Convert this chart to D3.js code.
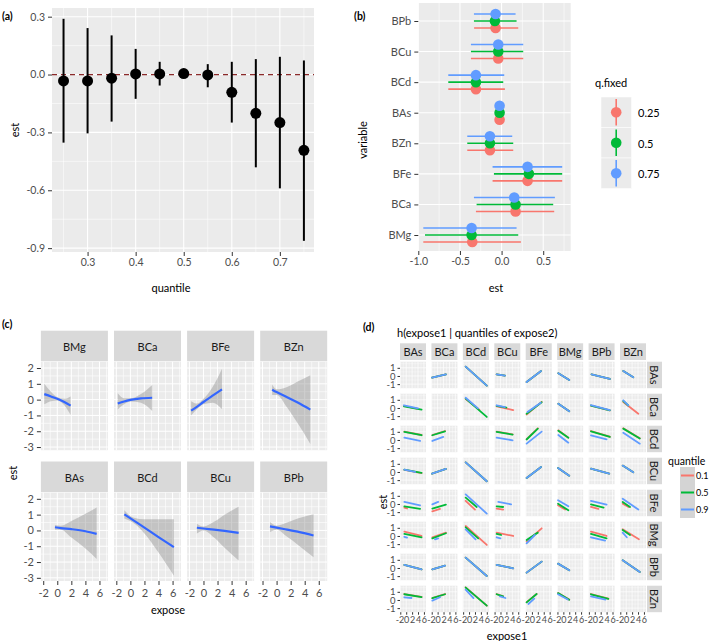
<!DOCTYPE html>
<html><head><meta charset="utf-8">
<script src="https://cdn.jsdelivr.net/npm/d3@7"></script>
<style>body{margin:0;background:#fff}svg{display:block}</style>
</head><body><svg id="chart" width="709" height="641"></svg>
<script>
// ================= DATA =================
// (a) overall risk summary
const quantilesA = [0.25,0.30,0.35,0.40,0.45,0.50,0.55,0.60,0.65,0.70,0.75];
const estA  = [-0.033,-0.033,-0.019,0.003,0.003,0.005,-0.002,-0.092,-0.201,-0.249,-0.393];
const lowA  = [-0.353,-0.305,-0.244,-0.126,-0.057,-0.014,-0.066,-0.249,-0.481,-0.590,-0.862];
const upA   = [0.289,0.241,0.203,0.133,0.066,0.020,0.054,0.066,0.080,0.092,0.073];
const xTicksA = [0.3,0.4,0.5,0.6,0.7];
const yTicksA = [0.3,0.0,-0.3,-0.6,-0.9];

// (b) single-variable effects, order of variablesB
const variablesB = ["BMg","BCa","BFe","BZn","BAs","BCd","BCu","BPb"];
const qFixed = ["0.25","0.5","0.75"];
const estB25 = [-0.352,0.168,0.312,-0.140,-0.024,-0.308,-0.040,-0.072];
const lowB25 = [-0.940,-0.308,-0.108,-0.412,-0.045,-0.640,-0.368,-0.330];
const upB25  = [0.232,0.632,0.728,0.140,0.000,0.040,0.260,0.200];
const estB50 = [-0.360,0.168,0.328,-0.140,-0.024,-0.308,-0.040,-0.080];
const lowB50 = [-0.920,-0.300,-0.092,-0.412,-0.045,-0.640,-0.368,-0.332];
const upB50  = [0.200,0.620,0.728,0.140,0.000,0.020,0.260,0.180];
const estB75 = [-0.360,0.152,0.312,-0.140,-0.024,-0.308,-0.040,-0.072];
const lowB75 = [-0.940,-0.332,-0.108,-0.412,-0.045,-0.640,-0.368,-0.332];
const upB75  = [0.180,0.640,0.728,0.128,0.000,0.032,0.260,0.168];
const xTicksB = [-1.0,-0.5,0.0,0.5];

// (c) univariate exposure-response
const facetsC = ["BMg","BCa","BFe","BZn","BAs","BCd","BCu","BPb"];
const exposeC = [
  [-1.85,-0.9,0,1.0,1.9],[-1.8,-0.9,0,1.5,3.1],[-1.76,-0.9,0,1.3,2.63],[-0.63,0,1.5,3.0,4.8],
  [-0.33,0.5,2.0,4.0,5.6],[-0.86,0.5,2.0,4.0,6.19],[-0.94,0,1.5,3.0,5.0],[-0.94,0,1.5,3.0,5.26]];
const estC = [
  [0.35,0.2,0.05,-0.15,-0.38],[-0.25,-0.12,-0.02,0.08,0.12],[-0.7,-0.44,-0.15,0.25,0.65],[0.63,0.48,0.15,-0.18,-0.63],
  [0.2,0.15,0.08,-0.05,-0.22],[1.02,0.62,0.18,-0.42,-1.06],[0.17,0.12,0.05,-0.03,-0.15],[0.26,0.18,0.05,-0.08,-0.32]];
const lowC = [
  [-0.3,-0.1,-0.05,-0.35,-0.97],[-0.62,-0.3,-0.12,-0.2,-0.72],[-1.0,-0.6,-0.3,-0.2,-0.6],[0.3,0.3,-0.5,-1.5,-2.8],
  [0.05,0.05,-0.45,-1.15,-1.8],[0.75,0.45,-0.2,-1.4,-2.87],[-0.2,0.0,-0.45,-1.1,-1.9],[-0.1,0.05,-0.4,-0.9,-1.7]];
const highC = [
  [1.0,0.5,0.15,0.05,0.2],[0.4,0.08,0.08,0.35,0.93],[-0.1,-0.25,0.05,0.8,1.95],[0.95,0.65,0.8,1.15,1.55],
  [0.35,0.3,0.6,1.05,1.45],[1.28,0.8,0.7,0.7,0.7],[0.43,0.25,0.55,1.0,1.5],[0.53,0.3,0.5,0.75,1.02]];
const xTicksC = [-2,0,2,4,6];
const yTicksC = [2,1,0,-1,-2,-3];

// (d) bivariate: [expose2 row, expose1 col, quantile, x0, x1, y0, y1]
const varsD = ["BAs","BCa","BCd","BCu","BFe","BMg","BPb","BZn"];
const quantD = ["0.1","0.5","0.9"];
const linesD = [
 ["BAs","BCa","all",-1.9,2.8,-0.2,0.2],["BAs","BCd","all",-1.15,6.0,1.14,-1.18],["BAs","BCu","all",-1.3,1.5,0.2,0.04],
 ["BAs","BFe","all",-1.8,3.1,-0.75,0.6],["BAs","BMg","all",-1.7,2.0,0.33,-0.49],["BAs","BPb","all",-1.1,5.1,0.2,-0.37],
 ["BAs","BZn","all",-1.0,2.4,0.61,-0.16],
 ["BCa","BAs","0.1",-0.74,4.0,0.25,-0.12],["BCa","BAs","0.5",-0.74,5.2,0.2,-0.2],["BCa","BAs","0.9",-0.74,4.0,0.33,-0.05],
 ["BCa","BCd","0.1",-1.15,3.5,1.1,-0.2],["BCa","BCd","0.5",-1.15,6.0,1.15,-1.1],["BCa","BCd","0.9",-1.15,3.0,1.25,-0.05],
 ["BCa","BCu","0.1",-1.3,4.3,0.2,-0.25],["BCa","BCu","0.5",-1.3,2.0,0.25,0.05],["BCa","BCu","0.9",-1.3,1.5,0.33,0.1],
 ["BCa","BFe","0.1",-1.8,3.3,-0.8,0.75],["BCa","BFe","0.5",-1.8,3.3,-0.7,0.7],["BCa","BFe","0.9",-1.5,3.0,-0.5,0.65],
 ["BCa","BMg","all",-1.7,2.0,0.53,-0.4],
 ["BCa","BPb","0.1",-1.3,5.1,0.28,-0.3],["BCa","BPb","0.5",-1.3,5.1,0.3,-0.29],["BCa","BPb","0.9",-1.3,5.1,0.35,-0.25],
 ["BCa","BZn","0.1",-1.0,4.1,0.73,-0.7],["BCa","BZn","0.5",-1.0,0.7,0.85,0.3],["BCa","BZn","0.9",-1.0,0.7,0.94,0.33],
 ["BCd","BAs","0.1",-0.63,5.2,1.02,0.61],["BCd","BAs","0.5",-0.63,5.2,0.98,0.58],["BCd","BAs","0.9",-0.63,4.7,0.29,-0.12],
 ["BCd","BCa","0.1",-1.8,2.5,0.61,1.1],["BCd","BCa","0.5",-1.8,2.5,0.58,1.06],["BCd","BCa","0.9",-1.8,1.9,-0.12,0.37],
 ["BCd","BCu","0.1",-1.3,4.1,1.02,0.69],["BCd","BCu","0.5",-1.3,4.1,0.98,0.66],["BCd","BCu","0.9",-1.3,4.1,0.29,-0.04],
 ["BCd","BFe","0.1",-1.8,2.0,0.1,1.43],["BCd","BFe","0.5",-1.8,2.0,0.06,1.38],["BCd","BFe","0.9",-1.8,3.3,-0.45,1.02],
 ["BCd","BMg","0.1",-1.7,1.7,1.18,0.29],["BCd","BMg","0.5",-1.7,1.7,1.14,0.26],["BCd","BMg","0.9",-1.7,1.7,0.61,-0.33],
 ["BCd","BPb","0.1",-1.3,5.1,1.1,0.41],["BCd","BPb","0.5",-1.3,5.1,1.06,0.37],["BCd","BPb","0.9",-1.3,4.0,0.57,0.08],
 ["BCd","BZn","0.1",-1.0,4.6,1.43,0.2],["BCd","BZn","0.5",-1.0,4.6,1.39,0.17],["BCd","BZn","0.9",-1.0,4.6,0.9,-0.45],
 ["BCu","BAs","0.1",-0.63,5.2,0.25,-0.15],["BCu","BAs","0.5",-0.63,5.2,0.28,-0.12],["BCu","BAs","0.9",-0.63,3.0,0.29,0.0],
 ["BCu","BCa","all",-1.9,2.8,-0.2,0.37],["BCu","BCd","all",-1.15,6.0,1.18,-1.14],["BCu","BFe","all",-1.8,3.1,-0.73,0.61],
 ["BCu","BMg","all",-1.8,2.0,0.49,-0.45],["BCu","BPb","all",-1.3,4.9,0.41,-0.2],["BCu","BZn","all",-1.2,2.4,0.78,-0.04],
 ["BFe","BAs","0.1",-0.63,0.3,-0.45,-0.55],["BFe","BAs","0.5",-0.63,4.7,-0.29,-0.61],["BFe","BAs","0.9",-0.63,4.7,0.25,-0.16],
 ["BFe","BCa","0.1",-1.8,0.8,-0.9,-0.61],["BFe","BCa","0.5",-1.8,2.8,-0.57,-0.08],["BFe","BCa","0.9",-1.8,0.2,-0.04,0.25],
 ["BFe","BCd","0.1",-1.15,2.0,0.37,-0.69],["BFe","BCd","0.5",-1.15,2.6,0.78,-0.37],["BFe","BCd","0.9",-1.15,6.0,1.18,-1.18],
 ["BFe","BCu","0.1",-1.3,0.9,-0.57,-0.69],["BFe","BCu","0.5",-1.3,0.9,-0.29,-0.37],["BFe","BCu","0.9",-0.75,3.6,0.25,-0.04],
 ["BFe","BMg","0.1",-1.8,0.6,-0.16,-0.69],["BFe","BMg","0.5",-1.8,1.7,0.04,-0.78],["BFe","BMg","0.9",-1.8,1.7,0.45,-0.29],
 ["BFe","BPb","0.1",-1.3,1.2,-0.37,-0.61],["BFe","BPb","0.5",-1.3,3.0,-0.04,-0.45],["BFe","BPb","0.9",-1.3,4.0,0.37,-0.08],
 ["BFe","BZn","0.1",-1.2,0.8,0.04,-0.37],["BFe","BZn","0.5",-1.2,1.3,0.25,-0.37],["BFe","BZn","0.9",-1.2,4.1,0.65,-0.69],
 ["BMg","BAs","0.1",-0.63,5.2,0.53,0.0],["BMg","BAs","0.5",-0.63,5.2,0.25,-0.16],["BMg","BAs","0.9",-0.63,0.3,-0.1,-0.2],
 ["BMg","BCa","0.1",-1.8,2.8,-0.16,0.41],["BMg","BCa","0.5",-1.8,2.8,-0.29,0.33],["BMg","BCa","0.9",-0.9,0.2,-0.41,-0.29],
 ["BMg","BCd","0.1",-1.15,6.0,1.22,-1.1],["BMg","BCd","0.5",-1.15,3.1,1.06,-0.29],["BMg","BCd","0.9",-1.15,2.2,0.82,-0.41],
 ["BMg","BCu","0.1",-1.3,4.3,0.41,0.0],["BMg","BCu","0.5",-1.3,0.2,0.25,0.12],["BMg","BCu","0.9",-1.3,0.0,-0.16,-0.29],
 ["BMg","BFe","0.1",-1.8,3.3,-0.69,0.94],["BMg","BFe","0.5",-1.8,2.0,-0.49,0.41],["BMg","BFe","0.9",-1.8,1.0,-0.9,0.12],
 ["BMg","BPb","0.1",-1.3,4.0,0.53,0.0],["BMg","BPb","0.5",-1.3,4.0,0.25,-0.29],["BMg","BPb","0.9",-1.3,3.5,-0.16,-0.57],
 ["BMg","BZn","0.1",-1.2,4.3,0.82,-0.41],["BMg","BZn","0.5",-1.2,1.3,0.73,0.12],["BMg","BZn","0.9",-1.2,0.2,0.41,-0.16],
 ["BPb","BAs","all",-0.63,5.2,0.37,-0.16],["BPb","BCa","all",-1.8,2.5,-0.16,0.29],["BPb","BCd","all",-1.15,6.0,1.27,-0.98],
 ["BPb","BCu","all",-1.3,4.3,0.37,-0.04],["BPb","BFe","all",-1.8,3.3,-0.57,0.78],["BPb","BMg","all",-1.8,2.0,0.53,-0.29],
 ["BPb","BZn","all",-1.2,4.6,0.94,-0.49],
 ["BZn","BAs","0.1",-0.63,5.2,0.73,0.37],["BZn","BAs","0.5",-0.63,5.2,0.7,0.35],["BZn","BAs","0.9",-0.63,1.8,0.33,0.24],
 ["BZn","BCa","0.1",-1.8,2.5,0.24,0.73],["BZn","BCa","0.5",-1.8,2.5,0.22,0.7],["BZn","BCa","0.9",-1.8,0.8,-0.08,0.33],
 ["BZn","BCd","0.1",-1.15,6.0,1.55,-0.69],["BZn","BCd","0.5",-1.15,6.0,1.52,-0.7],["BZn","BCd","0.9",-1.15,1.5,1.27,0.24],
 ["BZn","BCu","0.1",-1.3,0.9,0.73,0.45],["BZn","BCu","0.5",-1.3,0.9,0.7,0.43],["BZn","BCu","0.9",-0.2,1.7,0.45,0.24],
 ["BZn","BFe","0.1",-1.8,1.6,-0.27,0.75],["BZn","BFe","0.5",-1.8,1.6,-0.29,0.73],["BZn","BFe","0.9",-1.2,0.8,-0.49,0.16],
 ["BZn","BMg","0.1",-1.8,2.0,0.86,0.04],["BZn","BMg","0.5",-1.8,2.0,0.84,0.02],["BZn","BMg","0.9",-1.8,1.5,0.7,0.05],
 ["BZn","BPb","0.1",-1.3,4.6,0.73,0.16],["BZn","BPb","0.5",-1.3,4.6,0.7,0.14],["BZn","BPb","0.9",-1.3,3.6,0.45,0.04]
];
const xTicksD = [-2,0,2,4,6];
const yTicksD = [1,0,-1];

// ================= DRAWING =================
const FONT = "Lato, 'Open Sans', sans-serif";
const BG = "#EBEBEB", STRIP = "#D9D9D9";
const COL3 = ["#F8766D","#00BA38","#619CFF"];
const svg = d3.select("#chart").attr("font-family", FONT);
const fmt1 = d => d.toFixed(1);
const fmt0 = d => String(d);

function styleAxis(g, fs){
  g.attr("font-family", FONT).attr("font-size", fs);
  g.select(".domain").remove();
  g.selectAll(".tick line").attr("stroke","#333").attr("stroke-width",1);
  g.selectAll(".tick text").attr("fill","#4D4D4D");
  return g;
}
function gridLines(g, xs, ys, xMaj, xMin, yMaj, yMin, wMaj, wMin){
  const [xl,xr] = xs.range(); const [yb,yt] = ys.range();
  const vert = (vals,w)=>vals.forEach(v=>{const p=xs(v); if(p<xl-0.1||p>xr+0.1) return;
    g.append("line").attr("x1",p).attr("x2",p).attr("y1",yt).attr("y2",yb).attr("stroke","#fff").attr("stroke-width",w);});
  const hor = (vals,w)=>vals.forEach(v=>{const p=ys(v); if(p<yt-0.1||p>yb+0.1) return;
    g.append("line").attr("y1",p).attr("y2",p).attr("x1",xl).attr("x2",xr).attr("stroke","#fff").attr("stroke-width",w);});
  vert(xMin,wMin); hor(yMin,wMin); vert(xMaj,wMaj); hor(yMaj,wMaj);
}
function label(txt,x,y,opts={}){
  const t = svg.append("text").attr("x",x).attr("y",y).text(txt)
    .attr("font-size",opts.size||11).attr("fill",opts.fill||"#000")
    .attr("text-anchor",opts.anchor||"middle").attr("dominant-baseline","central");
  if(opts.bold) t.attr("font-weight","bold");
  if(opts.rotate) t.attr("transform",`rotate(${opts.rotate},${x},${y})`);
  return t;
}

// ---------- (a) ----------
{
  const g = svg.append("g");
  const x = d3.scaleLinear().domain([0.226,0.771]).range([52,314]);
  const y = d3.scaleLinear().domain([-0.92,0.345]).range([252,8]);
  g.append("rect").attr("x",52).attr("y",8).attr("width",262).attr("height",244).attr("fill",BG);
  gridLines(g,x,y,xTicksA,[0.25,0.35,0.45,0.55,0.65,0.75],yTicksA,[0.15,-0.15,-0.45,-0.75],1.1,0.55);
  g.append("line").attr("x1",52).attr("x2",314).attr("y1",y(0)).attr("y2",y(0))
    .attr("stroke","#8B2A2A").attr("stroke-width",1.3).attr("stroke-dasharray","5,4");
  quantilesA.forEach((q,i)=>{
    g.append("line").attr("x1",x(q)).attr("x2",x(q)).attr("y1",y(lowA[i])).attr("y2",y(upA[i]))
      .attr("stroke","#000").attr("stroke-width",2);
    g.append("circle").attr("cx",x(q)).attr("cy",y(estA[i])).attr("r",5.5).attr("fill","#000");
  });
  styleAxis(g.append("g").attr("transform","translate(52,0)").call(d3.axisLeft(y).tickValues(yTicksA).tickFormat(fmt1).tickSize(4).tickPadding(3)),10.5);
  styleAxis(g.append("g").attr("transform","translate(0,252)").call(d3.axisBottom(x).tickValues(xTicksA).tickFormat(fmt1).tickSize(4).tickPadding(3)),10.5);
  label("(a)",2,16,{anchor:"start",bold:true,size:10.5});
  label("est",14,130,{rotate:-90});
  label("quantile",171,287);
}

// ---------- (b) ----------
{
  const g = svg.append("g");
  const x = d3.scaleLinear().domain([-1.0,0.83]).range([418.3,570.7]);
  const y = d3.scalePoint().domain(variablesB.slice().reverse()).range([21,235]);
  g.append("rect").attr("x",418.3).attr("y",3).attr("width",152.4).attr("height",248).attr("fill",BG);
  const yLin = d3.scaleLinear().domain([0,1]).range([251,3]);
  gridLines(g,x,yLin,xTicksB,[-0.75,-0.25,0.25,0.75],[],[],1.1,0.55);
  variablesB.forEach(v=>g.append("line").attr("x1",418.3).attr("x2",570.7).attr("y1",y(v)).attr("y2",y(v)).attr("stroke","#fff").attr("stroke-width",1.1));
  const sets = [[estB25,lowB25,upB25],[estB50,lowB50,upB50],[estB75,lowB75,upB75]];
  const dodge = [7,0,-7];
  sets.forEach((s,k)=>{
    variablesB.forEach((v,i)=>{
      const yy = y(v)+dodge[k];
      g.append("line").attr("x1",x(s[1][i])).attr("x2",x(s[2][i])).attr("y1",yy).attr("y2",yy).attr("stroke",COL3[k]).attr("stroke-width",1.6);
      g.append("circle").attr("cx",x(s[0][i])).attr("cy",yy).attr("r",5.3).attr("fill",COL3[k]);
    });
  });
  styleAxis(g.append("g").attr("transform","translate(418.3,0)").call(d3.axisLeft(y).tickSize(4).tickPadding(3)),11);
  styleAxis(g.append("g").attr("transform","translate(0,251)").call(d3.axisBottom(x).tickValues(xTicksB).tickFormat(fmt1).tickSize(4).tickPadding(3)),10.5);
  label("(b)",354,16,{anchor:"start",bold:true,size:10.5});
  label("variable",362,140,{rotate:-90});
  label("est",496,287);
  // legend
  label("q.fixed",595,82,{anchor:"start"});
  qFixed.forEach((q,k)=>{
    const top = 97 + k*30.5;
    g.append("rect").attr("x",601).attr("y",top).attr("width",30.5).attr("height",30.5).attr("fill",BG).attr("stroke","#fff").attr("stroke-width",0.5);
    g.append("line").attr("x1",616.2).attr("x2",616.2).attr("y1",top+2).attr("y2",top+28.5).attr("stroke",COL3[k]).attr("stroke-width",1.6);
    g.append("circle").attr("cx",616.2).attr("cy",top+15.2).attr("r",5.3).attr("fill",COL3[k]);
    label(q,638,top+15.5,{anchor:"start",size:11});
  });
}

// ---------- (c) ----------
{
  const g = svg.append("g");
  const colX = [40.9,114,187.1,260.2], W = 67, rowTop = [361.7,492.5], H = 88.5, SH = 31;
  facetsC.forEach((f,i)=>{
    const c = i%4, r = Math.floor(i/4);
    const x = d3.scaleLinear().domain([-2.33,7.2]).range([colX[c],colX[c]+W]);
    const y = d3.scaleLinear().domain([-3.2,2.4]).range([rowTop[r]+H,rowTop[r]]);
    g.append("rect").attr("x",colX[c]).attr("y",rowTop[r]-SH).attr("width",W).attr("height",SH-0.5).attr("fill",STRIP);
    g.append("text").attr("x",colX[c]+W/2).attr("y",rowTop[r]-SH/2).attr("text-anchor","middle").attr("dominant-baseline","central")
      .attr("font-size",11).attr("fill","#1A1A1A").text(f);
    g.append("rect").attr("x",colX[c]).attr("y",rowTop[r]).attr("width",W).attr("height",H).attr("fill",BG);
    gridLines(g,x,y,xTicksC,[-1,1,3,5,7],yTicksC,[-2.5,-1.5,-0.5,0.5,1.5],1,0.6);
    const pts = exposeC[i].map((xv,j)=>({x:xv,e:estC[i][j],lo:lowC[i][j],hi:highC[i][j]}));
    g.append("path").datum(pts).attr("d",d3.area().x(d=>x(d.x)).y0(d=>y(d.lo)).y1(d=>y(d.hi)).curve(d3.curveMonotoneX))
      .attr("fill","#8c8c8c").attr("fill-opacity",0.42);
    g.append("path").datum(pts).attr("d",d3.line().x(d=>x(d.x)).y(d=>y(d.e)).curve(d3.curveMonotoneX))
      .attr("fill","none").attr("stroke","#3366FF").attr("stroke-width",2.2);
    if(c===0) styleAxis(g.append("g").attr("transform",`translate(${colX[c]},0)`).call(d3.axisLeft(y).tickValues(yTicksC).tickFormat(fmt0).tickSize(4).tickPadding(3)),11);
    if(r===1) styleAxis(g.append("g").attr("transform",`translate(0,${rowTop[r]+H})`).call(d3.axisBottom(x).tickValues(xTicksC).tickFormat(fmt0).tickSize(4).tickPadding(4)),11);
  });
  label("(c)",2,324,{anchor:"start",bold:true,size:10.5});
  label("est",12,473,{rotate:-90});
  label("expose",168,609);
}

// ---------- (d) ----------
{
  const g = svg.append("g");
  const colX0 = 400, CS = 31.43, W = 26, rowY0 = 361.7, RS = 32, H = 26.5;
  const xd = (c)=>d3.scaleLinear().domain([-2.1,6.7]).range([colX0+c*CS, colX0+c*CS+W]);
  const yd = (r)=>d3.scaleLinear().domain([-1.5,1.75]).range([rowY0+r*RS+H, rowY0+r*RS]);
  varsD.forEach((cv,c)=>{
    g.append("rect").attr("x",colX0+c*CS).attr("y",343.3).attr("width",W).attr("height",16.7).attr("fill",STRIP);
    g.append("text").attr("x",colX0+c*CS+W/2).attr("y",351.8).attr("text-anchor","middle").attr("dominant-baseline","central")
      .attr("font-size",11).attr("fill","#1A1A1A").text(cv);
  });
  varsD.forEach((rv,r)=>{
    const cy = rowY0+r*RS+H/2;
    g.append("rect").attr("x",647).attr("y",rowY0+r*RS).attr("width",15).attr("height",H).attr("fill",STRIP);
    g.append("text").attr("x",654.5).attr("y",cy).attr("text-anchor","middle").attr("dominant-baseline","central")
      .attr("font-size",11).attr("fill","#1A1A1A").attr("transform",`rotate(90,654.5,${cy})`).text(rv);
    varsD.forEach((cv,c)=>{
      const x = xd(c), y = yd(r);
      g.append("rect").attr("x",colX0+c*CS).attr("y",rowY0+r*RS).attr("width",W).attr("height",H).attr("fill",BG);
      gridLines(g,x,y,xTicksD,[-1,1,3,5],yTicksD,[-0.5,0.5,1.5],0.7,0.35);
    });
  });
  quantD.forEach((q,k)=>{
    linesD.filter(d=>d[2]===q||d[2]==="all").forEach(d=>{
      const r = varsD.indexOf(d[0]), c = varsD.indexOf(d[1]);
      const x = xd(c), y = yd(r);
      g.append("line").attr("x1",x(d[3])).attr("x2",x(d[4])).attr("y1",y(d[5])).attr("y2",y(d[6]))
        .attr("stroke",COL3[k]).attr("stroke-width",1.8).attr("stroke-linecap","round");
    });
  });
  varsD.forEach((rv,r)=>styleAxis(g.append("g").attr("transform","translate(400,0)").call(d3.axisLeft(yd(r)).tickValues(yTicksD).tickFormat(fmt0).tickSize(2.5).tickPadding(2)),9.5));
  varsD.forEach((cv,c)=>{
    const ax = styleAxis(g.append("g").attr("transform",`translate(0,${rowY0+7*RS+H})`).call(d3.axisBottom(xd(c)).tickValues(xTicksD).tickFormat(fmt0).tickSize(2.5).tickPadding(2)),9);
    ax.selectAll(".tick text").attr("dx", d=> d<0 ? -0.8 : 0);
  });
  label("(d)",363,327,{anchor:"start",bold:true,size:10.5});
  label("h(expose1 | quantiles of expose2)",397,332,{anchor:"start",size:11});
  label("est",382,502,{rotate:-90});
  label("expose1",507,635);
  // legend
  label("quantile",668,461,{anchor:"start",size:10.5});
  quantD.forEach((q,k)=>{
    const top = 467 + k*17;
    g.append("rect").attr("x",680).attr("y",top).attr("width",15).attr("height",17).attr("fill","#D4D4D4");
    g.append("line").attr("x1",681).attr("x2",694).attr("y1",top+8.5).attr("y2",top+8.5).attr("stroke",COL3[k]).attr("stroke-width",2);
    label(q,696,top+8.5,{anchor:"start",size:9});
  });
}
</script></body></html>
